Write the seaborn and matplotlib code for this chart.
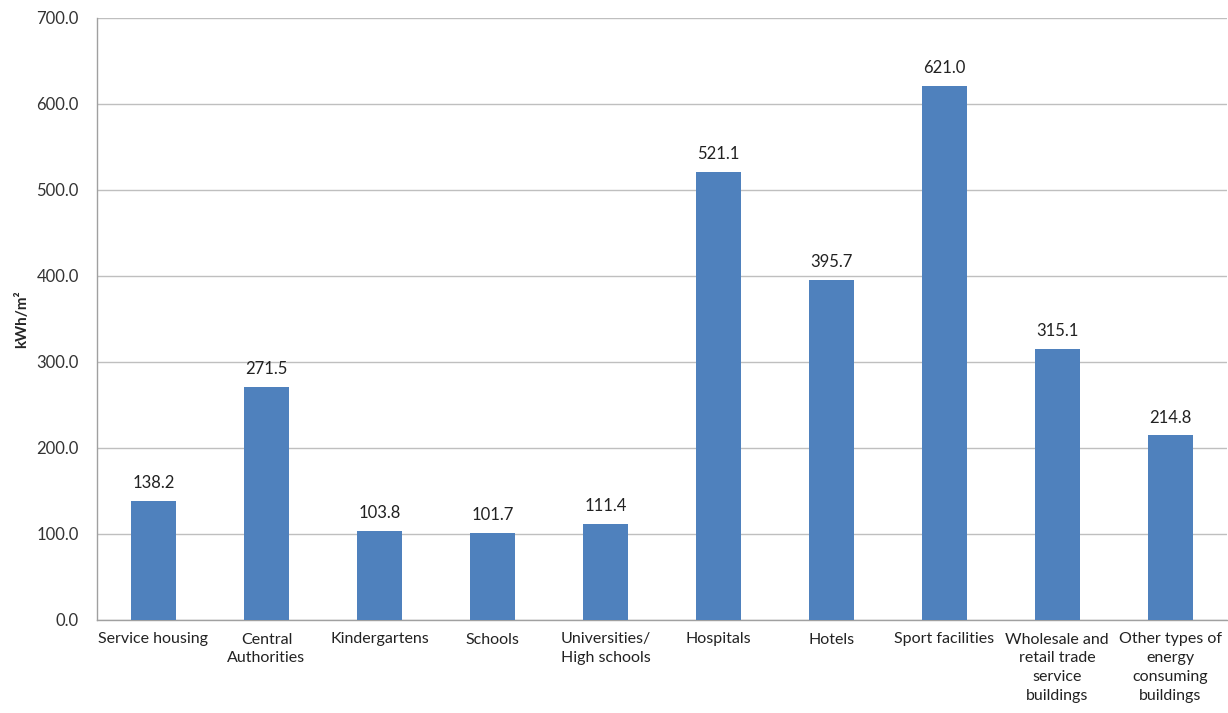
import matplotlib
matplotlib.use("Agg")
import matplotlib.pyplot as plt
import seaborn as sns
import pandas as pd
import numpy as np

categories = ["Service housing", "Central\nAuthorities", "Kindergartens", "Schools",
              "Universities/\nHigh schools", "Hospitals", "Hotels", "Sport facilities",
              "Wholesale and\nretail trade\nservice\nbuildings",
              "Other types of\nenergy\nconsuming\nbuildings"]
values = [138.2, 271.5, 103.8, 101.7, 111.4, 521.1, 395.7, 621.0, 315.1, 214.8]
y_ticks = [0, 100, 200, 300, 400, 500, 600, 700]

sns.set_style("white")
plt.rcParams['font.family'] = ['Lato', 'DejaVu Sans']

df = pd.DataFrame({"cat": categories, "val": values})

fig = plt.figure(figsize=(12.28, 7.13), dpi=100)
ax = fig.add_axes([97/1228, 1 - 620/713, 1 - 97/1228 - 0.001, (620 - 18)/713])

sns.barplot(data=df, x="cat", y="val", color="#4F81BD", width=0.4, saturation=1,
            ax=ax, zorder=3, linewidth=0)

ax.set_ylim(0, 700)
ax.set_xlim(-0.5, len(categories) - 0.5)
ax.set_yticks(y_ticks)
ax.set_yticklabels([f"{v:.1f}" for v in y_ticks], fontsize=12, color="#333333")
ax.yaxis.grid(True, color="#BFBFBF", linewidth=1, zorder=0)
ax.set_axisbelow(True)

n = len(categories)
ax.set_xticks(np.arange(-0.5, n, 1.0))
ax.set_xticklabels([""] * (n + 1))
ax.set_xticks(np.arange(n), minor=True)
ax.set_xticklabels(categories, minor=True, fontsize=11.5, color="#222222", linespacing=1.45)
ax.tick_params(axis="x", which="minor", length=0, pad=9)
ax.tick_params(axis="x", which="major", length=5, color="#A0A0A0", direction="out")
ax.tick_params(axis="y", length=5, color="#A0A0A0", direction="out", pad=8)
ax.set_xlabel("")
ax.set_ylabel("kWh/m²", fontsize=11, fontweight="bold")
ax.yaxis.set_label_coords(-68/1131, 0.5)

for s in ["top", "right"]:
    ax.spines[s].set_visible(False)
for s in ["left", "bottom"]:
    ax.spines[s].set_color("#A0A0A0")
    ax.spines[s].set_linewidth(1)

for i, v in enumerate(values):
    ax.annotate(f"{v:.1f}", (i, v), xytext=(0, 7), textcoords="offset points",
                ha="center", va="bottom", fontsize=12, color="#222222")

fig.savefig("out.png", dpi=100)
